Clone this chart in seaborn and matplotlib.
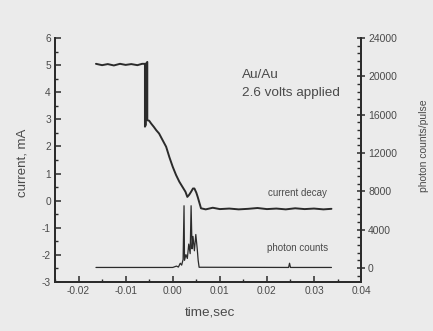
import matplotlib
matplotlib.use("Agg")
import matplotlib.pyplot as plt
import seaborn as sns
import pandas as pd
from matplotlib.ticker import MultipleLocator

# ---- data ----
current_time = [-0.0163, -0.0150, -0.0138, -0.0125, -0.0112, -0.0100, -0.0088, -0.0075,
                -0.0065, -0.0059, -0.0059, -0.0057, -0.0057, -0.0054, -0.0054,
                -0.0050, -0.0046, -0.0040, -0.0035, -0.0029, -0.0022, -0.0014,
                -0.0007, 0.0000, 0.0007, 0.0014, 0.0021, 0.0027, 0.0031, 0.0035,
                0.0039, 0.0043, 0.0046, 0.0050, 0.0053, 0.0057, 0.0060, 0.0070,
                0.0085, 0.0100, 0.0120, 0.0140, 0.0160, 0.0180, 0.0200, 0.0220,
                0.0240, 0.0260, 0.0280, 0.0300, 0.0320, 0.0337]
current_mA = [5.05, 5.00, 5.04, 4.99, 5.05, 5.01, 5.04, 5.00,
              5.05, 5.05, 2.73, 2.80, 5.05, 5.12, 2.97,
              2.95, 2.85, 2.72, 2.60, 2.48, 2.25, 1.99,
              1.60, 1.25, 0.95, 0.70, 0.50, 0.33, 0.14, 0.22,
              0.33, 0.45, 0.45, 0.30, 0.14, -0.10, -0.28, -0.32,
              -0.26, -0.31, -0.29, -0.32, -0.30, -0.27, -0.31, -0.29,
              -0.32, -0.28, -0.31, -0.29, -0.32, -0.30]

photon_time = [-0.0163, 0.0000, 0.0008, 0.0012, 0.0016, 0.0019, 0.0022, 0.0024, 0.0025,
               0.0028, 0.0031, 0.0034, 0.0037, 0.0039, 0.0041, 0.0043, 0.0046,
               0.0049, 0.0052, 0.0054, 0.0056, 0.0246, 0.0248, 0.0250, 0.0337]
photon_counts = [60, 60, 200, 100, 500, 300, 900, 6500, 800,
                 1400, 1000, 2500, 1500, 6500, 2000, 3300, 1800,
                 3500, 2000, 800, 80, 60, 500, 60, 60]

x_ticks = [-0.02, -0.01, 0.00, 0.01, 0.02, 0.03, 0.04]
x_tick_labels = ["-0.02", "-0.01", "0.00", "0.01", "0.02", "0.03", "0.04"]
left_ticks = [-3, -2, -1, 0, 1, 2, 3, 4, 5, 6]
right_ticks = [0, 4000, 8000, 12000, 16000, 20000, 24000]

cur_df = pd.DataFrame({"t": current_time, "i": current_mA})
ph_df = pd.DataFrame({"t": photon_time, "c": photon_counts})

# ---- style ----
sns.set_theme(style="ticks")
bg = "#ebebeb"
ink = "#2b2b2b"
txt = "#4a4a4a"
plt.rcParams["font.family"] = ["Liberation Sans", "DejaVu Sans"]
plt.rcParams["axes.unicode_minus"] = False

fig = plt.figure(figsize=(4.33, 3.31), dpi=100, facecolor=bg)
ax = fig.add_axes([0.127, 0.148, 0.707, 0.737])
ax.set_facecolor(bg)

sns.lineplot(data=cur_df, x="t", y="i", ax=ax, sort=False, estimator=None,
             color=ink, linewidth=1.4)
ax.set_xlim(-0.025, 0.04)
ax.set_ylim(-3, 6)

ax2 = ax.twinx()
sns.lineplot(data=ph_df, x="t", y="c", ax=ax2, sort=False, estimator=None,
             color=ink, linewidth=0.9)
ax2.set_ylim(-1460, 24000)
ax2.set_xlim(-0.025, 0.04)

# spines
for a in (ax, ax2):
    a.spines["top"].set_visible(False)
    for s in ("left", "bottom", "right"):
        a.spines[s].set_color(ink)
        a.spines[s].set_linewidth(1.3)

ax.set_xticks(x_ticks)
ax.set_xticklabels(x_tick_labels)
ax.set_yticks(left_ticks)
ax.xaxis.set_minor_locator(MultipleLocator(0.005))
ax.yaxis.set_minor_locator(MultipleLocator(0.5))
ax.tick_params(axis="both", which="major", direction="in", length=4, width=1.1,
               color=ink, labelsize=7.3, labelcolor=txt, pad=3)
ax.tick_params(axis="both", which="minor", direction="in", length=2.5, width=1.0, color=ink)

ax2.set_yticks(right_ticks)
ax2.yaxis.set_minor_locator(MultipleLocator(800))
ax2.tick_params(axis="y", which="major", direction="inout", length=6, width=1.1,
                color=ink, labelsize=7.5, labelcolor=txt, pad=2)
ax2.tick_params(axis="y", which="minor", direction="in", length=3, width=1.0, color=ink)

ax.set_xlabel("time,sec", fontsize=9.7, color=txt)
ax.set_ylabel("current, mA", fontsize=9.5, color=txt)
ax2.set_ylabel("photon counts/pulse", fontsize=7.5, color=txt)
ax.xaxis.set_label_coords(0.507, -0.10)
ax.yaxis.set_label_coords(-0.085, 0.49)
ax2.yaxis.set_label_coords(1.19, 0.56)

ax.text(0.0148, 4.63, "Au/Au", fontsize=9.7, color=txt, va="center", ha="left")
ax.text(0.0148, 3.97, "2.6 volts applied", fontsize=9.7, color=txt, va="center", ha="left")
ax.text(0.0327, 0.28, "current decay", fontsize=7, color=txt, va="center", ha="right")
ax.text(0.0330, -1.75, "photon counts", fontsize=7, color=txt, va="center", ha="right")

fig.savefig("out.png", dpi=100, facecolor=bg)
